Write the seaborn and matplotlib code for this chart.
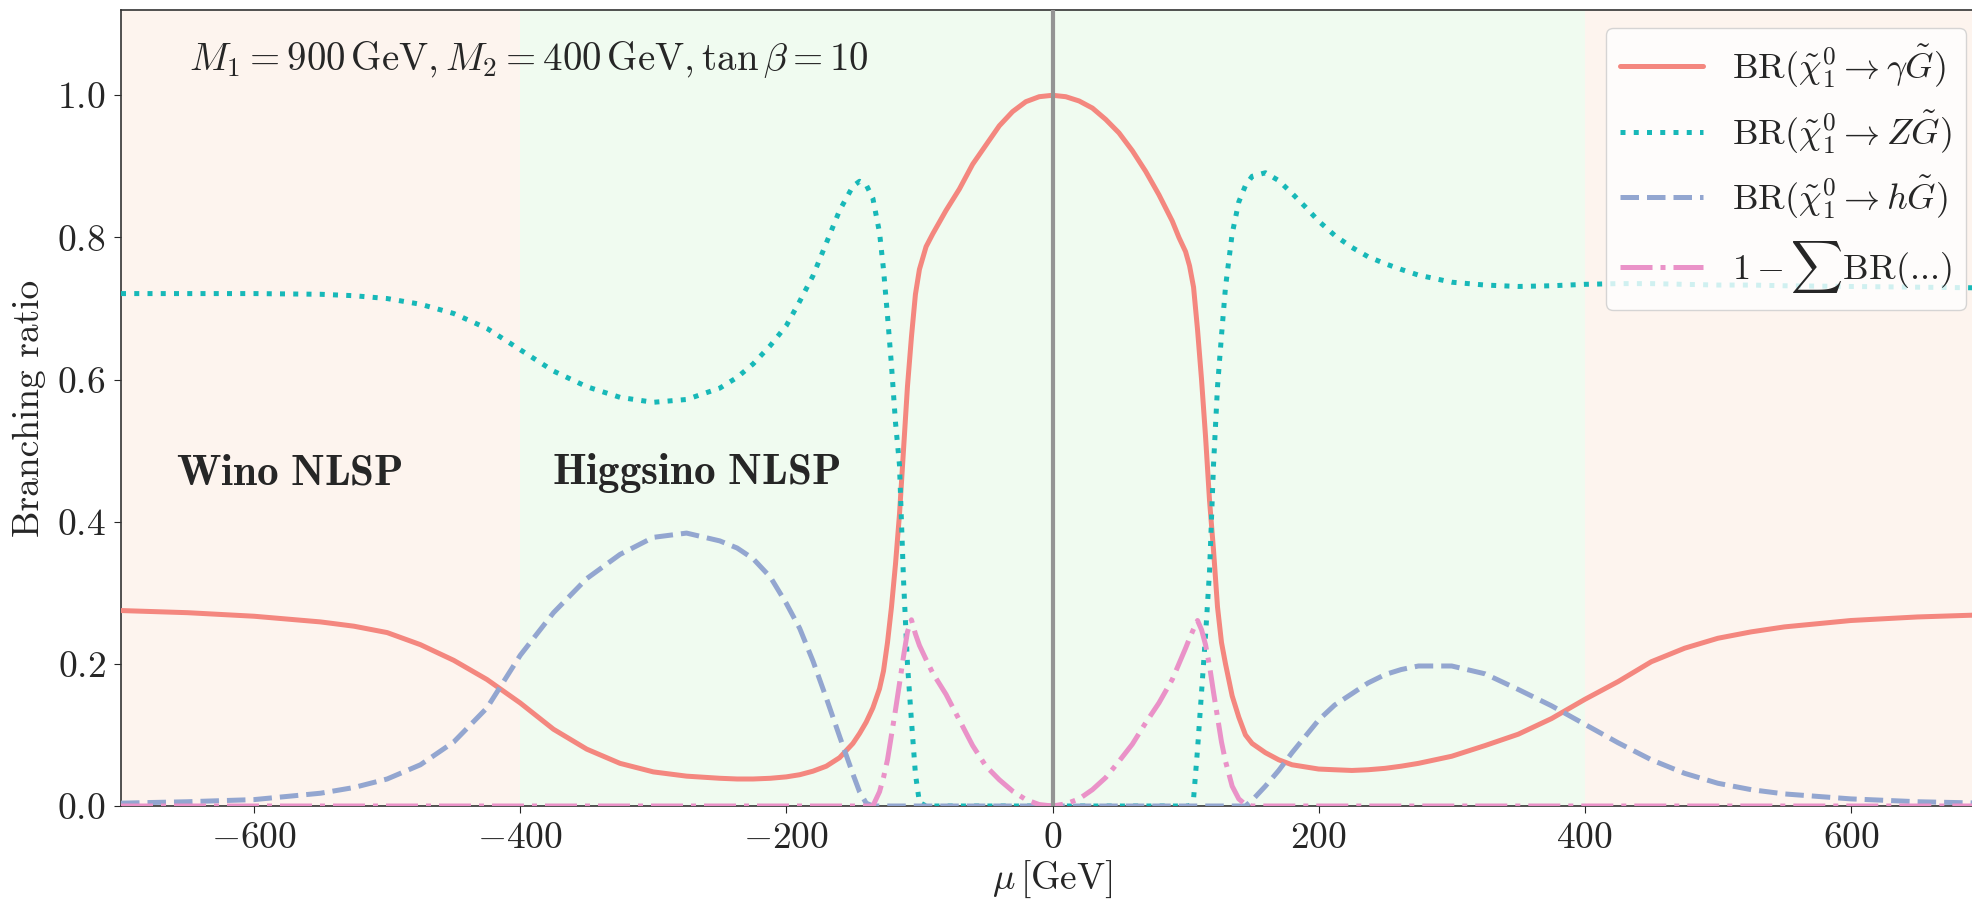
import numpy as np
import pandas as pd
import matplotlib
matplotlib.use("Agg")
import matplotlib.pyplot as plt
from matplotlib.ticker import FuncFormatter, FixedLocator
import seaborn as sns

# Higgsino mass parameter grid [GeV]
mu = [-700, -650, -600, -550, -525, -500, -475, -450, -425, -400, -375, -350,
      -325, -300, -275, -250, -237, -225, -212, -200, -190, -180, -170, -160,
      -150, -145, -140, -135, -130, -127, -124, -121, -118, -115, -112, -109,
      -106, -103, -100, -95, -90, -80, -70, -60, -50, -40, -30, -20, -10, 0,
      10, 20, 30, 40, 50, 60, 70, 80, 90, 95, 100, 103, 106, 109, 112, 115,
      118, 121, 124, 127, 130, 135, 140, 145, 150, 160, 170, 180, 190, 200,
      212, 225, 237, 250, 262, 275, 300, 325, 350, 375, 400, 425, 450, 475,
      500, 525, 550, 600, 650, 700]

# BR(chi -> gamma G)
br_gamma = [0.275, 0.272, 0.267, 0.259, 0.253, 0.244, 0.227, 0.205, 0.178,
            0.145, 0.108, 0.080, 0.060, 0.048, 0.042, 0.039, 0.038, 0.038,
            0.039, 0.041, 0.044, 0.049, 0.056, 0.068, 0.088, 0.102, 0.118,
            0.138, 0.165, 0.190, 0.230, 0.280, 0.340, 0.410, 0.500, 0.590,
            0.660, 0.720, 0.755, 0.787, 0.805, 0.838, 0.868, 0.903, 0.930,
            0.957, 0.977, 0.991, 0.998, 1.000, 0.998, 0.992, 0.982, 0.966,
            0.947, 0.922, 0.893, 0.860, 0.823, 0.800, 0.780, 0.760, 0.730,
            0.670, 0.600, 0.520, 0.430, 0.360, 0.280, 0.230, 0.200, 0.155,
            0.125, 0.100, 0.088, 0.075, 0.065, 0.058, 0.055, 0.052, 0.051,
            0.050, 0.051, 0.053, 0.056, 0.060, 0.070, 0.085, 0.101, 0.123,
            0.150, 0.175, 0.203, 0.222, 0.236, 0.245, 0.252, 0.261, 0.266,
            0.269]

# BR(chi -> Z G)
br_z = [0.721, 0.721, 0.721, 0.720, 0.718, 0.714, 0.706, 0.693, 0.672, 0.642,
        0.612, 0.590, 0.575, 0.568, 0.572, 0.588, 0.603, 0.622, 0.648, 0.676,
        0.710, 0.746, 0.792, 0.838, 0.872, 0.879, 0.874, 0.855, 0.807, 0.755,
        0.690, 0.620, 0.540, 0.480, 0.320, 0.200, 0.120, 0.045, 0.005, 0.0,
        0.0, 0.0, 0.0, 0.0, 0.0, 0.0, 0.0, 0.0, 0.0, 0.0, 0.0, 0.0, 0.0, 0.0,
        0.0, 0.0, 0.0, 0.0, 0.0, 0.0, 0.0, 0.0, 0.010, 0.080, 0.160, 0.240,
        0.330, 0.480, 0.590, 0.662, 0.730, 0.805, 0.850, 0.873, 0.886, 0.891,
        0.880, 0.862, 0.843, 0.823, 0.803, 0.786, 0.773, 0.763, 0.755, 0.747,
        0.737, 0.733, 0.731, 0.732, 0.734, 0.735, 0.735, 0.734, 0.733, 0.733,
        0.732, 0.731, 0.730, 0.729]

# BR(chi -> h G)
br_h = [0.004, 0.006, 0.009, 0.018, 0.026, 0.038, 0.058, 0.090, 0.138, 0.212,
        0.272, 0.320, 0.354, 0.378, 0.384, 0.373, 0.363, 0.348, 0.322, 0.285,
        0.250, 0.204, 0.152, 0.098, 0.045, 0.020, 0.004, 0.0, 0.0, 0.0, 0.0,
        0.0, 0.0, 0.0, 0.0, 0.0, 0.0, 0.0, 0.0, 0.0, 0.0, 0.0, 0.0, 0.0, 0.0,
        0.0, 0.0, 0.0, 0.0, 0.0, 0.0, 0.0, 0.0, 0.0, 0.0, 0.0, 0.0, 0.0, 0.0,
        0.0, 0.0, 0.0, 0.0, 0.0, 0.0, 0.0, 0.0, 0.0, 0.0, 0.0, 0.0, 0.0, 0.0,
        0.0, 0.008, 0.028, 0.050, 0.075, 0.098, 0.121, 0.142, 0.158, 0.173,
        0.185, 0.192, 0.197, 0.197, 0.186, 0.164, 0.141, 0.115, 0.089, 0.065,
        0.046, 0.032, 0.023, 0.017, 0.010, 0.006, 0.004]

# 1 - sum of the above
br_rest = [0.0, 0.0, 0.0, 0.0, 0.0, 0.0, 0.0, 0.0, 0.0, 0.0, 0.0, 0.0, 0.0,
           0.0, 0.0, 0.0, 0.0, 0.0, 0.0, 0.0, 0.0, 0.0, 0.0, 0.0, 0.0, 0.0,
           0.0, 0.0, 0.020, 0.040, 0.065, 0.100, 0.135, 0.172, 0.210, 0.245,
           0.262, 0.242, 0.226, 0.206, 0.187, 0.157, 0.121, 0.085, 0.056,
           0.037, 0.021, 0.009, 0.002, 0.0, 0.003, 0.010, 0.023, 0.040, 0.063,
           0.087, 0.117, 0.145, 0.178, 0.200, 0.222, 0.236, 0.249, 0.261,
           0.248, 0.227, 0.197, 0.160, 0.125, 0.090, 0.063, 0.028, 0.010,
           0.002, 0.0, 0.0, 0.0, 0.0, 0.0, 0.0, 0.0, 0.0, 0.0, 0.0, 0.0, 0.0,
           0.0, 0.0, 0.0, 0.0, 0.0, 0.0, 0.0, 0.0, 0.0, 0.0, 0.0, 0.0, 0.0,
           0.0]

x_ticks = [-600, -400, -200, 0, 200, 400, 600]
y_ticks = [0.0, 0.2, 0.4, 0.6, 0.8, 1.0]
mu_range = (-700, 700)
higgsino_edge = 400
mu_zero = 0

labels = [r'$\mathrm{BR}(\tilde{\chi}^0_1 \to \gamma\tilde{G})$',
          r'$\mathrm{BR}(\tilde{\chi}^0_1 \to Z\tilde{G})$',
          r'$\mathrm{BR}(\tilde{\chi}^0_1 \to h\tilde{G})$',
          r'$1-\sum\mathrm{BR}$(...)']
colors = ['#f4877f', '#17b8b8', '#93a6d0', '#ea92c8']
styles = ['-', ':', '--', '-.']

sns.set_style("ticks")
plt.rcParams.update({
    'font.family': ['cmr10', 'DejaVu Serif'],
    'mathtext.fontset': 'cm',
    'axes.unicode_minus': False,
    'axes.edgecolor': '#333333',
    'axes.linewidth': 1.2,
    'xtick.direction': 'out',
    'ytick.direction': 'out',
    'xtick.major.size': 5,
    'ytick.major.size': 5,
})

fs = 27
fig = plt.figure(figsize=(19.72, 9.07), dpi=100)
ax = fig.add_axes([121 / 1972, 101 / 907, 1863 / 1972, 796 / 907])

ax.axvspan(mu_range[0], -higgsino_edge, color='#fdf4ee', lw=0, zorder=0)
ax.axvspan(-higgsino_edge, higgsino_edge, color='#f0fbf0', lw=0, zorder=0)
ax.axvspan(higgsino_edge, mu_range[1], color='#fdf4ee', lw=0, zorder=0)

df = pd.DataFrame({'mu': mu, 'gamma': br_gamma, 'Z': br_z, 'h': br_h, 'rest': br_rest})
for col, lab, c, ls in zip(['gamma', 'Z', 'h', 'rest'], labels, colors, styles):
    sns.lineplot(data=df, x='mu', y=col, ax=ax, color=c, linestyle=ls,
                 linewidth=3.6, label=lab, zorder=3)

ax.axvline(mu_zero, color='#949494', lw=3, zorder=4)

ax.set_xlim(*mu_range)
ax.set_ylim(0, 1.12)
ax.xaxis.set_major_locator(FixedLocator(x_ticks))
ax.yaxis.set_major_locator(FixedLocator(y_ticks))


def fmt_x(v, pos):
    if v < 0:
        return r'$-\mathrm{%d}$' % abs(v)
    return r'$\mathrm{%d}$' % v


ax.xaxis.set_major_formatter(FuncFormatter(fmt_x))
ax.yaxis.set_major_formatter(FuncFormatter(lambda v, p: r'$\mathrm{%.1f}$' % v))
ax.tick_params(labelsize=fs, pad=6)

ax.set_xlabel(r'$\mu\,[\mathrm{GeV}]$', fontsize=fs, labelpad=3)
ax.set_ylabel('Branching ratio', fontsize=fs, labelpad=8)

ax.text(-649, 1.051, r'$M_1 = 900\,\mathrm{GeV}, M_2 = 400\,\mathrm{GeV}, \tan\beta = 10$',
        fontsize=28, ha='left', va='center')
ax.text(-659, 0.468, r'$\mathbf{Wino\ NLSP}$', fontsize=31, ha='left', va='center')
ax.text(-376, 0.468, r'$\mathbf{Higgsino\ NLSP}$', fontsize=31, ha='left', va='center')

ax.legend(loc='upper right', fontsize=26, handlelength=2.3, framealpha=0.8)

fig.savefig('out.png', dpi=100)
